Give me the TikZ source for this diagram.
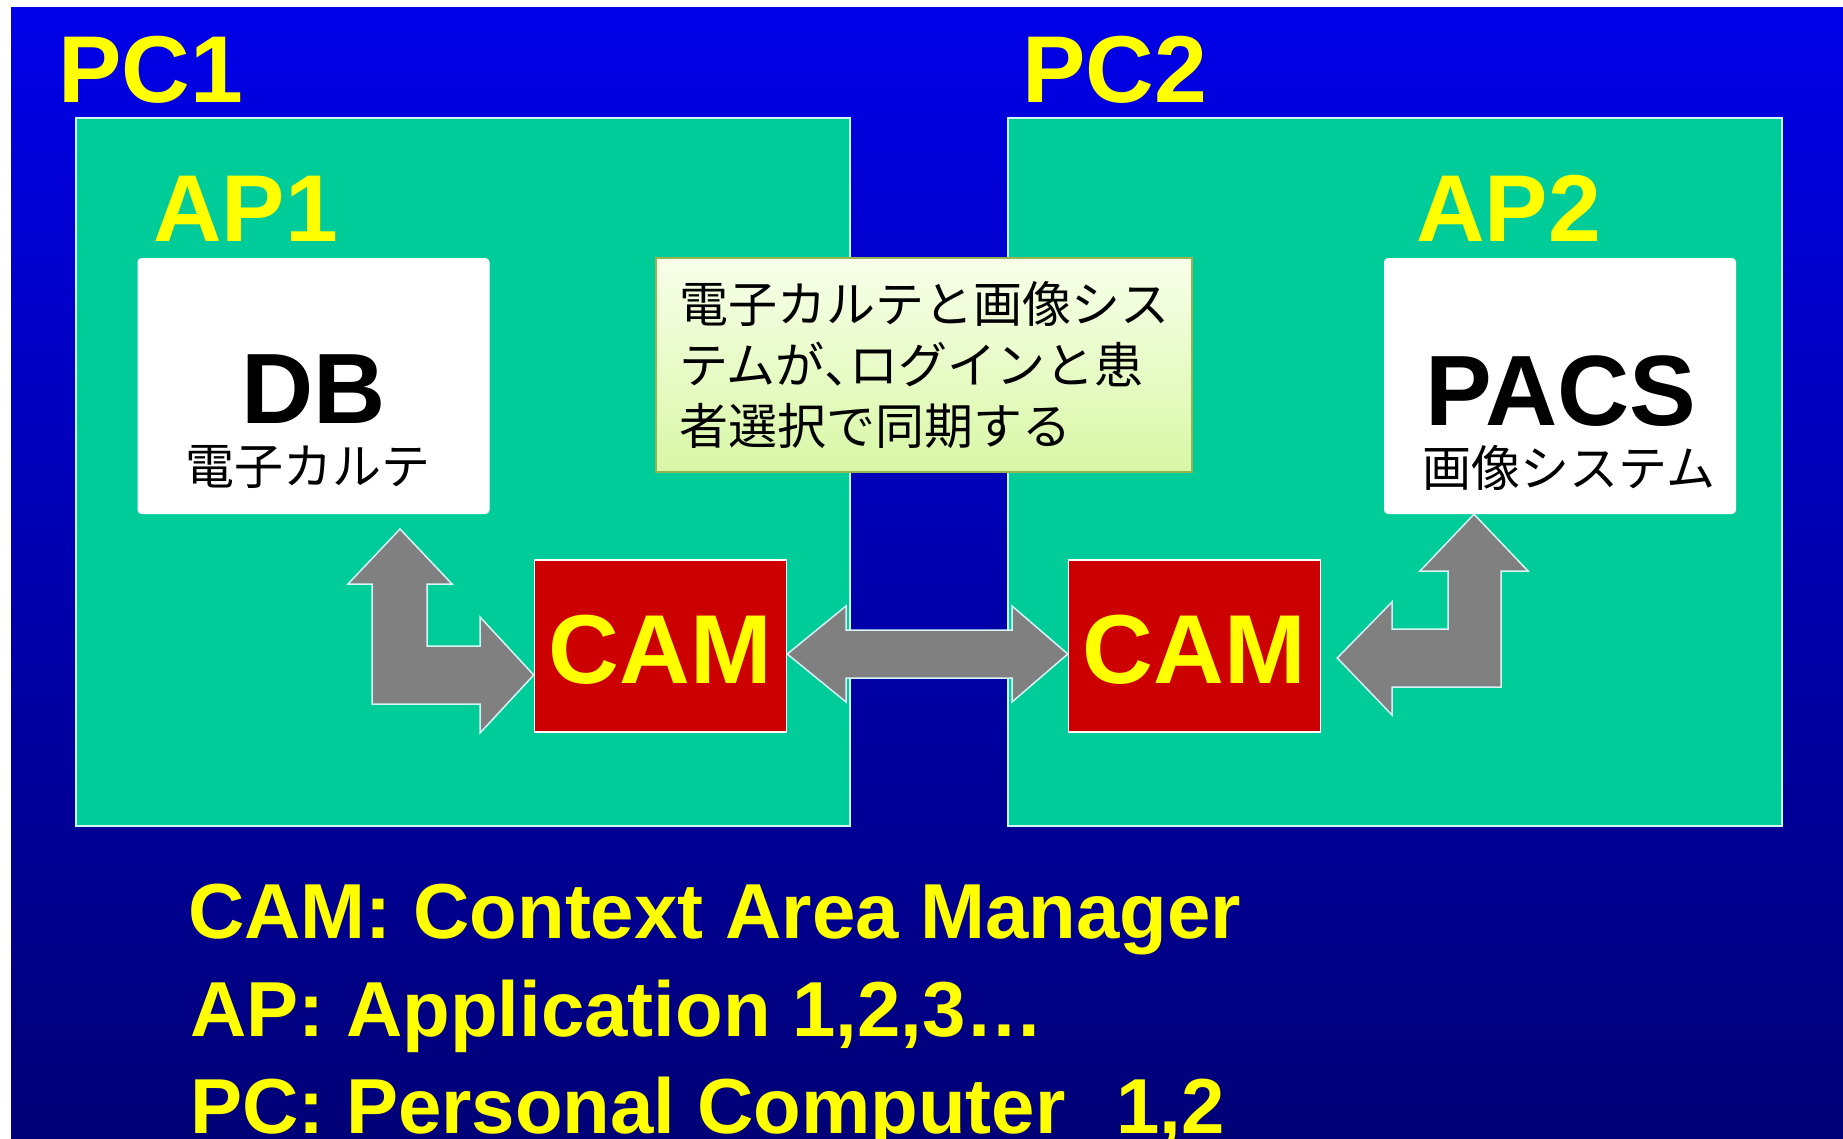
\documentclass[tikz,border=0pt]{standalone}
\usepackage{fontspec}
\setmainfont{Liberation Sans}
\newfontfamily\cjk{Noto Sans CJK JP}
\usetikzlibrary{calc}

\definecolor{bgtop}{RGB}{0,0,232}
\definecolor{bgbottom}{RGB}{0,0,118}
\definecolor{pcgreen}{RGB}{0,204,153}
\definecolor{pcedge}{RGB}{200,250,250}
\definecolor{camred}{RGB}{204,0,0}
\definecolor{labelyellow}{RGB}{255,255,0}
\definecolor{arrowgray}{RGB}{128,128,128}
\definecolor{arrowedge}{RGB}{215,245,245}
\definecolor{notetop}{RGB}{248,255,234}
\definecolor{notebottom}{RGB}{216,247,166}
\definecolor{noteedge}{RGB}{150,180,80}

\begin{document}
\begin{tikzpicture}[x=1pt,y=-1pt,
  pcbox/.style={draw=pcedge, line width=2pt, fill=pcgreen, inner sep=0,
    minimum width=774pt, minimum height=708pt},
  appbox/.style={fill=white, rounded corners=4pt, inner sep=0,
    minimum width=352pt, minimum height=256pt},
  cambox/.style={draw=white, line width=1.5pt, fill=camred, inner sep=0,
    minimum width=252pt, minimum height=172pt},
  notebox/.style={draw=noteedge, line width=2pt,
    top color=notetop, bottom color=notebottom, inner sep=0,
    minimum width=536pt, minimum height=214pt, align=left,
    font=\cjk\fontsize{49}{61}\selectfont},
  biglabel/.style={inner sep=0, text=labelyellow,
    font=\fontsize{95}{95}\selectfont\bfseries},
  camlabel/.style={inner sep=0, text=labelyellow,
    font=\fontsize{98}{98}\selectfont\bfseries},
  apptitle/.style={inner sep=0, text=black,
    font=\fontsize{100}{100}\selectfont\bfseries},
  appsub/.style={inner sep=0, text=black,
    font=\cjk\fontsize{49}{49}\selectfont},
  legend/.style={inner sep=0, anchor=base west, text=labelyellow,
    font=\fontsize{78}{78}\selectfont\bfseries},
  blockarrow/.style={fill=arrowgray, draw=arrowedge, line width=1.5pt,
    line join=miter}
]
% page and slide background
\useasboundingbox (0,0) rectangle (1843,1138);
\fill[white] (0,0) rectangle (1843,1138);
\shade[top color=bgtop, bottom color=bgbottom] (11,7) rectangle (1843,1138);

% the two personal computers
\node[pcbox] (pc1) at (463,472) {};
\node[pcbox] (pc2) at (1395,472) {};
\node[biglabel, anchor=base west] (pc1lbl) at (58,102) {PC1};
\node[biglabel, anchor=base west] (pc2lbl) at (1022,102) {PC2};
\node[biglabel, anchor=base west] (ap1lbl) at (153,241) {AP1};
\node[biglabel, anchor=base west] (ap2lbl) at (1416,241) {AP2};

% applications
\node[appbox] (db) at (313.5,386) {};
\node[apptitle, anchor=base] (dbtxt) at (314,423) {DB};
\node[appsub] (dbsub) at (308,467) {電子カルテ};
\node[appbox] (pacs) at (1560,386) {};
\node[apptitle, anchor=base] (pacstxt) at (1561,425) {PACS};
\node[appsub] (pacssub) at (1569,468) {画像システム};

% explanatory note
\node[notebox] (note) at (924,365)
  {電子カルテと画像シス\\テムが\makebox[0.5em][l]{、}ログインと患\\者選択で同期する};

% context area managers
\node[cambox] (cam1) at (660.5,646) {};
\node[camlabel, anchor=base] (cam1txt) at (cam1.center |- 0,683) {CAM};
\node[cambox] (cam2) at (1194.5,646) {};
\node[camlabel, anchor=base] (cam2txt) at (cam2.center |- 0,683) {CAM};

% AP1 <-> CAM (L-shaped)
\draw[blockarrow] (400,529) -- (452,584) -- (427,584) -- (427,646)
  -- (480,646) -- (480,617) -- ($(cam1.west)+(0,29)$) -- (480,733)
  -- (480,704) -- (372,704) -- (372,584) -- (348,584) -- cycle;

% CAM <-> CAM
\draw[blockarrow] ($(cam1.east)+(0,8)$) -- (846,606) -- (846,630)
  -- (1012,630) -- (1012,606) -- ($(cam2.west)+(0,8)$) -- (1012,702)
  -- (1012,678) -- (846,678) -- (846,702) -- cycle;

% CAM <-> AP2 (L-shaped)
\draw[blockarrow] (pacs.south -| 1474,0) -- (1528,571) -- (1501,571)
  -- (1501,687) -- (1392,687) -- (1392,715) -- ($(cam2.east)+(16,12)$)
  -- (1392,602) -- (1392,629) -- (1448,629) -- (1448,571)
  -- (1420,571) -- cycle;

% legend
\node[legend] (leg1) at (188,938) {CAM: Context Area Manager};
\node[legend] (leg2) at (190,1036) {AP: Application 1,2,3\dots};
\node[legend] (leg3) at (190,1133) {PC: Personal Computer\hspace{51pt}1,2};
\end{tikzpicture}
\end{document}
